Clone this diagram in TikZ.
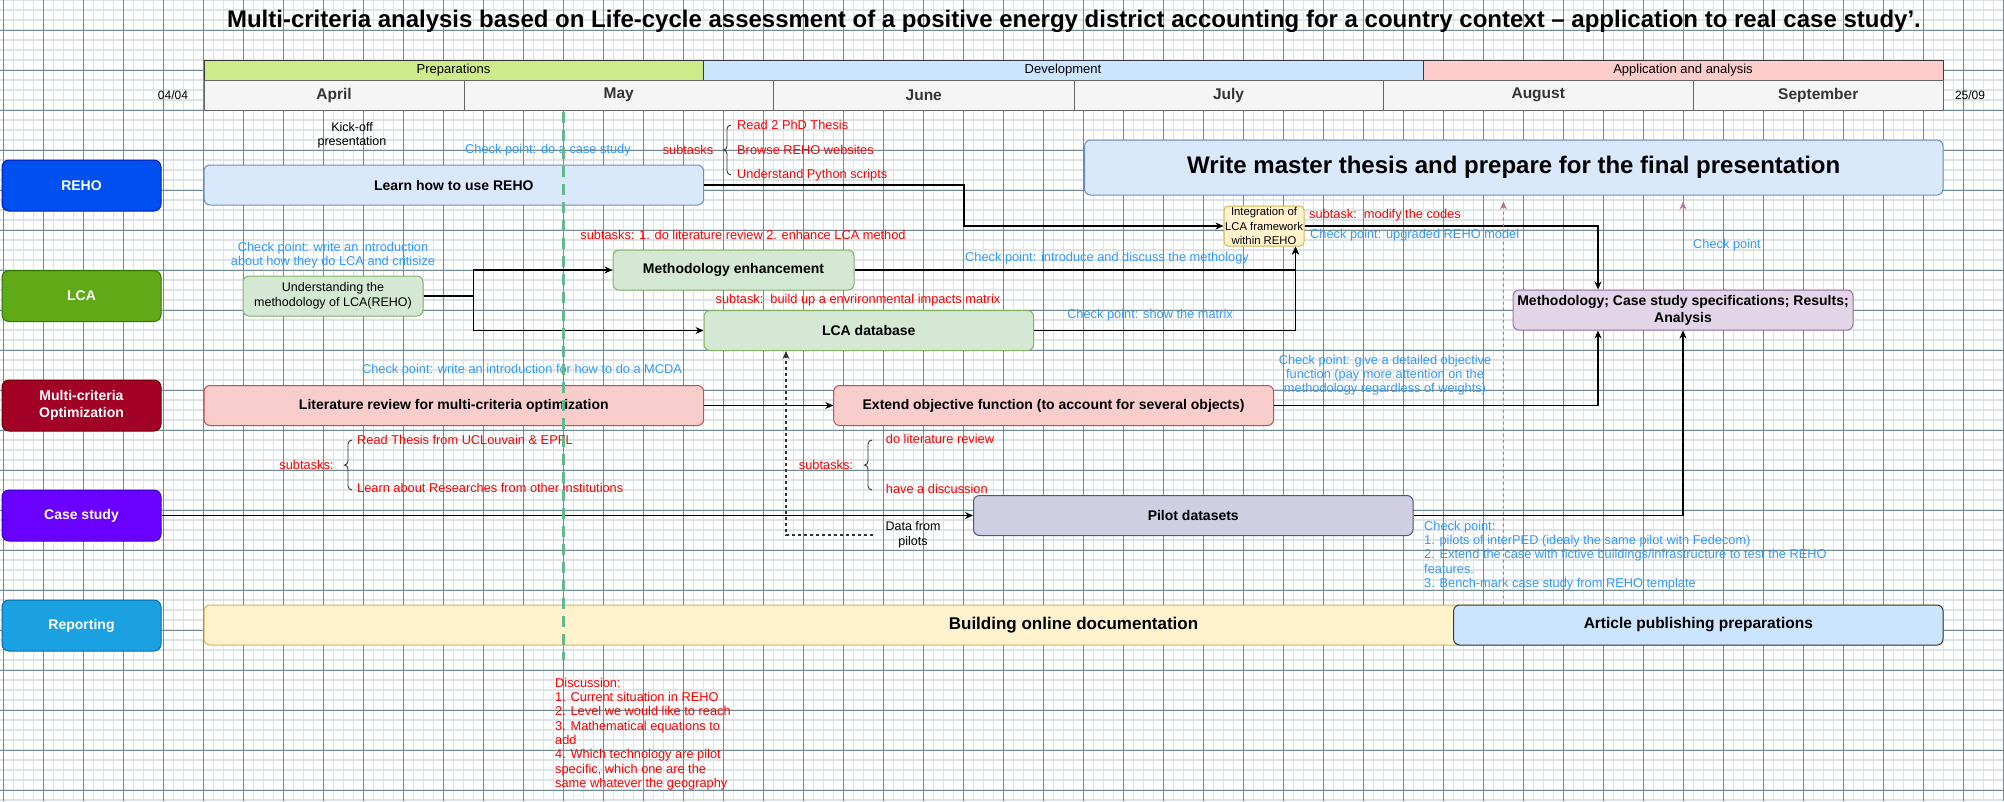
\documentclass[tikz,border=0pt]{standalone}
\usepackage{fontspec}
\setmainfont{Liberation Sans}
\usetikzlibrary{arrows.meta}
\definecolor{gridmaj}{RGB}{112,140,148}
\definecolor{gridmin}{RGB}{221,228,232}
\definecolor{cpblue}{HTML}{3399FF}
\definecolor{subred}{HTML}{FF0000}
\definecolor{greendash}{RGB}{103,183,140}
\definecolor{pinkarrow}{HTML}{B5739D}
\definecolor{prepfill}{HTML}{CDEB8B}
\definecolor{devfill}{HTML}{CCE5FF}
\definecolor{appfill}{HTML}{FFCCCC}
\definecolor{monfill}{HTML}{F5F5F5}
\definecolor{monline}{HTML}{666666}
\definecolor{darkline}{HTML}{36393D}
\definecolor{rehofill}{HTML}{0050EF}\definecolor{reholine}{HTML}{001DBC}
\definecolor{lcafill}{HTML}{60A917}\definecolor{lcaline}{HTML}{2D7600}
\definecolor{mcfill}{HTML}{A20025}\definecolor{mcline}{HTML}{6F0000}
\definecolor{casefill}{HTML}{6A00FF}\definecolor{caseline}{HTML}{3700CC}
\definecolor{repfill}{HTML}{1BA1E2}\definecolor{repline}{HTML}{006EAF}
\definecolor{bluefill}{HTML}{DAE8FC}\definecolor{blueline}{HTML}{6C8EBF}
\definecolor{grnfill}{HTML}{D5E8D4}\definecolor{grnline}{HTML}{82B366}
\definecolor{yelfill}{HTML}{FFF2CC}\definecolor{yelline}{HTML}{D6B656}
\definecolor{purfill}{HTML}{E1D5E7}\definecolor{purline}{HTML}{9673A6}
\definecolor{redfill}{HTML}{F8CECC}\definecolor{redline}{HTML}{B85450}
\definecolor{pilfill}{HTML}{D0CEE2}\definecolor{pilline}{HTML}{56517E}
\tikzset{
  lanebox/.style={draw, rounded corners=7pt, line width=1pt, minimum width=159pt, minimum height=51pt,
    text=white, align=center, inner sep=0pt, font=\bfseries\fontsize{14}{16.8}\selectfont},
  taskbox/.style={draw, rounded corners=6pt, line width=1pt, minimum height=40pt, align=center,
    inner sep=0pt, font=\bfseries\fontsize{14}{16.8}\selectfont},
  phasebox/.style={draw=darkline, line width=1pt, minimum height=20pt, inner sep=0pt,
    font=\fontsize{13}{15}\selectfont},
  monthbox/.style={draw=monline, fill=monfill, line width=1pt, minimum height=30pt, inner sep=0pt,
    text=black!80, font=\bfseries\fontsize{15.5}{18}\selectfont},
  ann/.style={inner sep=0pt, font=\fontsize{12.8}{14.3}\selectfont},
  cpt/.style={ann, text=cpblue},
  subt/.style={ann, text=subred},
  conn/.style={draw=black, line width=1.2pt, -{Stealth[length=8pt,width=7pt]}},
  bracepath/.style={draw=black!80, line width=0.9pt},
}
\begin{document}
\begin{tikzpicture}[x=1pt,y=-1pt]
\useasboundingbox (0,0) rectangle (2004,801);
\fill[white] (0,0) rectangle (2004,801);
% grid
\foreach \i in {0,...,200} {\draw[gridmin, line width=1.1pt] (3.3+10*\i,0) -- (3.3+10*\i,801);}
\foreach \i in {0,...,80} {\draw[gridmin, line width=1.1pt] (0,10*\i) -- (2004,10*\i);}
\foreach \i in {0,...,50} {\draw[gridmaj, line width=0.8pt] (3.3+40*\i,0) -- (3.3+40*\i,801);}
\foreach \i in {0,...,19} {\draw[gridmaj, line width=0.8pt] (0,30+40*\i) -- (2004,30+40*\i);}

% title
\node[inner sep=0pt, font=\bfseries\fontsize{24}{28}\selectfont] (title) at (1074,21)
  {Multi-criteria analysis based on Life-cycle assessment of a positive energy district accounting for a country context – application to real case study’.};

% phases
\node[phasebox, fill=prepfill, minimum width=499pt] (prep) at (453.5,70) {Preparations};
\node[phasebox, fill=devfill, minimum width=720pt] (dev) at (1063,70) {Development};
\node[phasebox, fill=appfill, minimum width=520pt] (app) at (1683,70) {Application and analysis};
% months
\node[monthbox, minimum width=260pt] (apr) at (334,95) {April};
\node[monthbox, minimum width=309.5pt] (may) at (618.75,95) {May};
\node[monthbox, minimum width=300.5pt] (jun) at (923.75,95) {June};
\node[monthbox, minimum width=309pt] (jul) at (1228.5,95) {July};
\node[monthbox, minimum width=310.5pt] (aug) at (1538.25,95) {August};
\node[monthbox, minimum width=249.5pt] (sep) at (1818.25,95) {September};
\node[ann, font=\fontsize{12}{14}\selectfont] (start) at (173,95) {04/04};
\node[ann, font=\fontsize{12}{14}\selectfont] (end) at (1970,95) {25/09};

% lanes
\node[lanebox, fill=rehofill, draw=reholine] (reho) at (81.5,185.5) {REHO};
\node[lanebox, fill=lcafill, draw=lcaline] (lca) at (81.5,296) {LCA};
\node[lanebox, fill=mcfill, draw=mcline] (mc) at (81.5,405.5) {Multi-criteria\\Optimization};
\node[lanebox, fill=casefill, draw=caseline] (case) at (81.5,515.5) {Case study};
\node[lanebox, fill=repfill, draw=repline] (rep) at (81.5,625.5) {Reporting};

% tasks
\node[taskbox, fill=bluefill, draw=blueline, minimum width=499.6pt] (learn) at (453.8,185) {Learn how to use REHO};
\node[taskbox, fill=grnfill, draw=grnline, minimum width=180pt, font=\fontsize{12.5}{15}\selectfont] (under) at (333,296) {Understanding the\\methodology of LCA(REHO)};
\node[taskbox, fill=grnfill, draw=grnline, minimum width=241pt] (meth) at (733.5,270) {Methodology enhancement};
\node[taskbox, fill=grnfill, draw=grnline, minimum width=329.5pt] (lcadb) at (868.75,330.5) {LCA database};
\node[taskbox, fill=yelfill, draw=yelline, minimum width=80pt, rounded corners=4pt, font=\fontsize{11.3}{14.5}\selectfont] (integ) at (1264,226) {Integration of\\LCA framework\\within REHO};
\node[taskbox, fill=bluefill, draw=blueline, minimum width=858.5pt, minimum height=55pt, font=\bfseries\fontsize{24}{28}\selectfont] (thesis) at (1513.75,167.5) {Write master thesis and prepare for the final presentation};
\node[taskbox, fill=purfill, draw=purline, minimum width=340pt] (res) at (1683,310) {Methodology; Case study specifications; Results;\\Analysis};
\node[taskbox, fill=redfill, draw=redline, minimum width=499.6pt] (lit) at (453.8,405.5) {Literature review for multi-criteria optimization};
\node[taskbox, fill=redfill, draw=redline, minimum width=439.8pt] (ext) at (1053.6,405.5) {Extend objective function (to account for several objects)};
\node[taskbox, fill=pilfill, draw=pilline, minimum width=439.5pt] (pilot) at (1193.25,515.5) {Pilot datasets};
\node[taskbox, fill=yelfill, draw=yelline, minimum width=1739pt, font=\bfseries\fontsize{17}{20}\selectfont] (doc) at (1073.5,625) {Building online documentation};
\node[taskbox, fill=devfill, draw=darkline, minimum width=489.4pt, font=\bfseries\fontsize{15.5}{18}\selectfont] (art) at (1698.3,625) {Article publishing preparations};

% annotations
\node[ann, align=center, font=\fontsize{12.5}{14.5}\selectfont] (kick) at (352,135.5) {Kick-off\\presentation};
\node[cpt] (cp1) at (548,150) {Check point: do a case study};
\node[subt] (sub1) at (688,150) {subtasks};
\node[subt, anchor=west] (r1) at (737,125) {Read 2 PhD Thesis};
\node[subt, anchor=west] (r2) at (737,150) {Browse REHO websites};
\node[subt, anchor=west] (r3) at (737,175) {Understand Python scripts};
\node[cpt, align=center] (cp2) at (333,255) {Check point: write an introduction\\about how they do LCA and critisize};
\node[subt] (sub2) at (743,235) {subtasks: 1. do literature review 2. enhance LCA method};
\node[subt] (sub3) at (858,300) {subtask:\ \ build up a envrironmental impacts matrix};
\node[cpt] (cp3) at (1107,257.7) {Check point: introduce and discuss the methology};
\node[cpt] (cp4) at (1150,314.7) {Check point: show the matrix};
\node[subt, anchor=west] (sub4) at (1309,215) {subtask:\ \ modify the codes};
\node[cpt, anchor=west] (cp5) at (1310,235) {Check point: upgraded REHO model};
\node[cpt, anchor=west] (cp6) at (1693,245) {Check point};
\node[cpt] (cp7) at (522,370) {Check point: write an introduction for how to do a MCDA};
\node[cpt, align=center] (cp8) at (1385,375) {Check point: give a detailed objective\\function (pay more attention on the\\methodology regardless of weights)};
\node[subt] (sub5) at (306.5,465) {subtasks:};
\node[subt, anchor=west] (r4) at (357,440) {Read Thesis from UCLouvain \& EPFL};
\node[subt, anchor=west] (r5) at (357,488) {Learn about Researches from other institutions};
\node[subt] (sub6) at (826,465) {subtasks:};
\node[subt, anchor=west] (r6) at (885.7,439) {do literature review};
\node[subt, anchor=west] (r7) at (885.7,489) {have a discussion};
\node[ann, align=center, minimum width=80pt, font=\fontsize{12.5}{14.8}\selectfont] (data) at (913,535) {Data from\\pilots};
\node[cpt, align=left, anchor=west] (cp9) at (1424,555.5) {Check point:\\1. pilots of interPED (idealy the same pilot with Fedecom)\\2. Extend the case with fictive buildings/infrastructure to test the REHO\\features.\\3. Bench-mark case study from REHO template};
\node[subt, align=left, anchor=west] (disc) at (555,734) {Discussion:\\1. Current situation in REHO\\2. Level we would like to reach\\3. Mathematical equations to\\add\\4. Which technology are pilot\\specific, which one are the\\same whatever the geography};

% braces
\foreach \bx/\bt/\bb in {727/125/175, 348/440/490, 868/440/490} {
  \pgfmathsetmacro{\bm}{(\bt+\bb)/2}
  \draw[bracepath] (\bx+4,\bt) to[out=180,in=90] (\bx,\bt+4) -- (\bx,\bm-4) to[out=-90,in=0] (\bx-3.5,\bm)
     to[out=0,in=90] (\bx,\bm+4) -- (\bx,\bb-4) to[out=-90,in=180] (\bx+4,\bb);
}

% connectors
\draw[conn] (learn.east) -- ++(259.8,0) |- (integ.west);
\draw[conn] (under.east) -- ++(50,0) |- (meth.west);
\draw[conn] (under.east) -- ++(50,0) |- (lcadb.west);
\draw[conn] (meth.east) -| ([xshift=31.5pt]integ.south);
\draw[conn] (lcadb.east) -| ([xshift=31.5pt]integ.south);
\draw[conn] (integ.east) -| ([xshift=-85pt]res.north);
\draw[conn] (lit.east) -- (ext.west);
\draw[conn] (ext.east) -| ([xshift=-85pt]res.south);
\draw[conn] (case.east) -- (pilot.west);
\draw[conn] (pilot.east) -| (res.south);
\draw[conn, draw=black!80, line width=1.1pt, dash pattern=on 3pt off 3pt] (data.west) -| ([xshift=-82.75pt]lcadb.south);
\draw[draw=pinkarrow, line width=1pt, dash pattern=on 3pt off 3pt, -{Stealth[length=8pt,width=7pt]}, shorten >=6pt]
  ([xshift=-194.9pt]art.north) -- ([xshift=-10.35pt]thesis.south);
\draw[draw=pinkarrow, line width=1pt, -{Stealth[length=8pt,width=7pt]}, shorten >=6pt]
  (res.north) -- ([xshift=169.25pt]thesis.south);

% milestone line
\draw[greendash, line width=3pt, dash pattern=on 11pt off 7pt] (563,112) -- (563,660);
\end{tikzpicture}
\end{document}
